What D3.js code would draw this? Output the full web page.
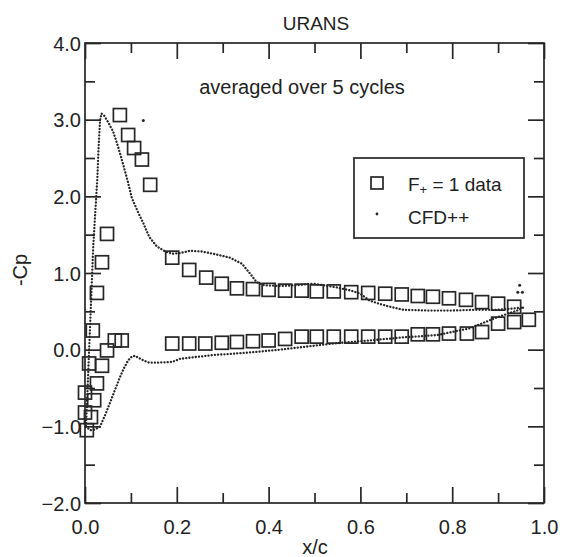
<!DOCTYPE html>
<html>
<head>
<meta charset="utf-8">
<script src="https://cdn.jsdelivr.net/npm/d3@7/dist/d3.min.js"></script>
<style>
  html, body { margin: 0; padding: 0; background: #fff; }
  svg { display: block; }
  text { font-family: "Liberation Sans", Arial, Helvetica, sans-serif; fill: #222; }
</style>
</head>
<body>
<svg id="chart" width="563" height="557"></svg>
<script>
// ---------------- DATA ----------------
const xTicks = [0.0, 0.2, 0.4, 0.6, 0.8, 1.0];
const xMinorTicks = [0.1, 0.3, 0.5, 0.7, 0.9];
const yTicks = [4.0, 3.0, 2.0, 1.0, 0.0, -1.0, -2.0];
const yMinorTicks = [3.5, 2.5, 1.5, 0.5, -0.5, -1.5];

// Experimental data (F+ = 1), x/c and -Cp
const expX = [
  0.076, 0.094, 0.107, 0.124, 0.142, 0.048, 0.037, 0.026, 0.017, 0.048, 0.065, 0.080,
  0.009, 0.037, 0.026, 0.000, 0.020, 0.000, 0.013, 0.004,
  0.190, 0.227, 0.264, 0.298, 0.331, 0.366, 0.400, 0.436, 0.472, 0.505, 0.542, 0.580,
  0.617, 0.654, 0.690, 0.725, 0.758, 0.793, 0.830, 0.865, 0.900, 0.935,
  0.190, 0.227, 0.262, 0.298, 0.331, 0.366, 0.400, 0.436, 0.472, 0.505, 0.542, 0.580,
  0.617, 0.654, 0.690, 0.725, 0.758, 0.793, 0.832, 0.865, 0.900, 0.935, 0.967
];
const expCp = [
  3.06, 2.80, 2.63, 2.48, 2.15, 1.51, 1.14, 0.74, 0.25, -0.01, 0.12, 0.12,
  -0.18, -0.21, -0.44, -0.56, -0.66, -0.82, -0.88, -1.05,
  1.20, 1.04, 0.94, 0.86, 0.80, 0.79, 0.78, 0.77, 0.77, 0.76, 0.76, 0.75,
  0.74, 0.73, 0.72, 0.70, 0.69, 0.67, 0.65, 0.62, 0.60, 0.56,
  0.08, 0.08, 0.08, 0.09, 0.10, 0.11, 0.12, 0.14, 0.17, 0.17, 0.17, 0.17,
  0.17, 0.17, 0.17, 0.20, 0.20, 0.21, 0.21, 0.23, 0.34, 0.36, 0.39
];

// CFD++ upper surface
const cfdUpperX = [
  0.002, 0.004, 0.006, 0.008, 0.010, 0.012, 0.014, 0.016, 0.018, 0.021, 0.024, 0.027,
  0.029, 0.031, 0.033, 0.036, 0.042, 0.050, 0.061, 0.072, 0.083, 0.093, 0.102, 0.115,
  0.127, 0.140, 0.156, 0.175, 0.190, 0.207, 0.229, 0.255, 0.280, 0.316, 0.342, 0.360,
  0.374, 0.390, 0.425, 0.460, 0.497, 0.520, 0.550, 0.580, 0.600, 0.620, 0.640, 0.658,
  0.693, 0.750, 0.800, 0.850, 0.900, 0.955
];
const cfdUpperCp = [
  -1.00, -0.75, -0.45, -0.15, 0.15, 0.45, 0.75, 1.05, 1.35, 1.65, 1.95, 2.25,
  2.55, 2.80, 3.00, 3.08, 3.05, 2.97, 2.85, 2.65, 2.42, 2.20, 1.98, 1.80,
  1.65, 1.47, 1.35, 1.28, 1.25, 1.26, 1.29, 1.28, 1.25, 1.20, 1.12, 0.99,
  0.88, 0.84, 0.83, 0.84, 0.86, 0.84, 0.81, 0.77, 0.73, 0.64, 0.60, 0.57,
  0.52, 0.51, 0.51, 0.52, 0.52, 0.55
];

// CFD++ lower surface
const cfdLowerX = [
  0.002, 0.011, 0.022, 0.033, 0.044, 0.054, 0.065, 0.076, 0.085, 0.094, 0.102, 0.109,
  0.118, 0.127, 0.140, 0.156, 0.190, 0.207, 0.235, 0.280, 0.353, 0.425, 0.497, 0.540,
  0.620, 0.693, 0.767, 0.839, 0.897, 0.941, 0.955
];
const cfdLowerCp = [
  -1.00, -1.05, -1.04, -1.00, -0.85, -0.70, -0.53, -0.36, -0.24, -0.14, -0.09, -0.08,
  -0.11, -0.14, -0.17, -0.17, -0.16, -0.12, -0.10, -0.07, -0.04, 0.00, 0.05, 0.08,
  0.12, 0.16, 0.19, 0.28, 0.42, 0.51, 0.55
];

// Isolated CFD++ points
const cfdStrayX = [0.127, 0.947, 0.943, 0.953];
const cfdStrayCp = [2.99, 0.84, 0.75, 0.75];

// ---------------- LAYOUT ----------------
const svg = d3.select("#chart");
const L = 85, R = 544, T = 43, B = 503;
const x = d3.scaleLinear().domain([0, 1]).range([L, R]);
const y = d3.scaleLinear().domain([-2, 4]).range([B, T]);
const ink = "#262626";

// frame
svg.append("rect").attr("x", L).attr("y", T).attr("width", R - L).attr("height", B - T)
  .attr("fill", "none").attr("stroke", ink).attr("stroke-width", 1.7);

// inward ticks on all sides using d3 axes
const majorLen = 16, minorLen = 10;
function addAxis(axisFn, scale, vals, len, transform, showLabels, fmt) {
  const a = axisFn(scale).tickValues(vals).tickSizeInner(-len).tickSizeOuter(0)
    .tickFormat(showLabels ? fmt : "");
  const g = svg.append("g").attr("transform", transform).call(a);
  g.select(".domain").remove();
  g.selectAll(".tick line").attr("stroke", ink).attr("stroke-width", 1.7);
  return g;
}
const f1 = d3.format(".1f");
// bottom
const gb = addAxis(d3.axisBottom, x, xTicks, majorLen, `translate(0,${B})`, true, f1);
gb.selectAll(".tick text").attr("y", 31).attr("dy", 0)
  .attr("font-size", 20).attr("fill", ink).style("font-family", "Liberation Sans, Arial, sans-serif");
addAxis(d3.axisBottom, x, xMinorTicks, minorLen, `translate(0,${B})`, false);
// top
addAxis(d3.axisTop, x, xTicks, majorLen, `translate(0,${T})`, false);
addAxis(d3.axisTop, x, xMinorTicks, minorLen, `translate(0,${T})`, false);
// left
const gl = addAxis(d3.axisLeft, y, yTicks, majorLen, `translate(${L},0)`, true, f1);
gl.selectAll(".tick text").attr("x", -4).attr("dy", "0.36em")
  .attr("font-size", 20).attr("fill", ink).style("font-family", "Liberation Sans, Arial, sans-serif");
addAxis(d3.axisLeft, y, yMinorTicks, minorLen, `translate(${L},0)`, false);
// right
addAxis(d3.axisRight, y, yTicks, majorLen, `translate(${R},0)`, false);
addAxis(d3.axisRight, y, yMinorTicks, minorLen, `translate(${R},0)`, false);

// ---------------- MARKS ----------------
const line = d3.line().x(d => x(d[0])).y(d => y(d[1]));
const upper = d3.zip(cfdUpperX, cfdUpperCp);
const lower = d3.zip(cfdLowerX, cfdLowerCp);
[upper, lower].forEach(pts => {
  svg.append("path").datum(pts).attr("d", line)
    .attr("fill", "none").attr("stroke", ink).attr("stroke-width", 2.3)
    .attr("stroke-linecap", "round").attr("stroke-dasharray", "0.1 3.1");
});
svg.append("g").selectAll("circle").data(d3.zip(cfdStrayX, cfdStrayCp)).join("circle")
  .attr("cx", d => x(d[0])).attr("cy", d => y(d[1])).attr("r", 1.5).attr("fill", ink);

const sq = 13;
svg.append("g").selectAll("rect").data(d3.zip(expX, expCp)).join("rect")
  .attr("x", d => x(d[0]) - sq / 2).attr("y", d => y(d[1]) - sq / 2)
  .attr("width", sq).attr("height", sq)
  .attr("fill", "none").attr("stroke", ink).attr("stroke-width", 1.7);

// ---------------- TEXT ----------------
svg.append("text").attr("x", 316).attr("y", 30).attr("text-anchor", "middle")
  .attr("font-size", 19).text("URANS");
svg.append("text").attr("x", 302).attr("y", 94).attr("text-anchor", "middle")
  .attr("font-size", 20).text("averaged over 5 cycles");
svg.append("text").attr("x", 315).attr("y", 554).attr("text-anchor", "middle")
  .attr("font-size", 20).text("x/c");
svg.append("text").attr("transform", "translate(27,270) rotate(-90)")
  .attr("text-anchor", "middle").attr("font-size", 20).text("-Cp");

// ---------------- LEGEND ----------------
svg.append("rect").attr("x", 354).attr("y", 158).attr("width", 170).attr("height", 80)
  .attr("fill", "#fff").attr("stroke", ink).attr("stroke-width", 1.7);
svg.append("rect").attr("x", 371).attr("y", 177).attr("width", 12).attr("height", 12)
  .attr("fill", "none").attr("stroke", ink).attr("stroke-width", 1.7);
svg.append("circle").attr("cx", 377).attr("cy", 214).attr("r", 1.4).attr("fill", ink);
const t1 = svg.append("text").attr("x", 408).attr("y", 191).attr("font-size", 19);
t1.append("tspan").text("F");
t1.append("tspan").attr("font-size", 13).attr("dy", 3).text("+");
t1.append("tspan").attr("dy", -3).text(" = 1 data");
svg.append("text").attr("x", 408).attr("y", 224).attr("font-size", 19).text("CFD++");
</script>
</body>
</html>
